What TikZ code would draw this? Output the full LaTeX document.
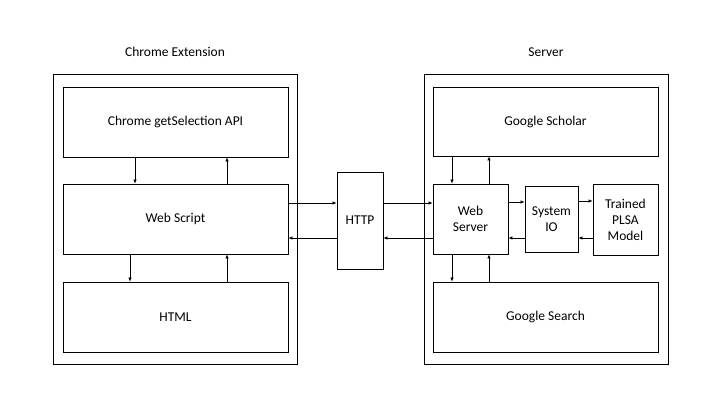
\documentclass[tikz,border=0pt]{standalone}
\usepackage{fontspec}
\setmainfont{Carlito}
\usetikzlibrary{arrows.meta}
\begin{document}
\begin{tikzpicture}[x=1pt,y=-1pt,
  box/.style={draw,line width=0.8pt,inner sep=0pt,font=\fontsize{13.5}{16}\selectfont,align=center},
  arr/.style={line width=0.7pt,-{Latex[length=4pt,width=3.5pt]}},
  lbl/.style={font=\fontsize{13.5}{16}\selectfont}]
\useasboundingbox (0,0) rectangle (720,405);
\fill[white] (0,0) rectangle (720,405);
% outer boxes
\draw[line width=0.8pt] (53,74) rectangle (297,364);
\draw[line width=0.8pt] (424,74) rectangle (668,364);
\node[lbl] (lt) at (175,52) {Chrome Extension};
\node[lbl] (rt) at (546,52) {Server};
% left boxes
\node[box,minimum width=225pt,minimum height=70pt] (api) at (175.5,122) {Chrome getSelection API};
\node[box,minimum width=225pt,minimum height=70pt] (ws) at (175.5,219) {Web Script};
\node[box,minimum width=225pt,minimum height=70pt] (html) at (175.5,317) {HTML};
% HTTP
\node[box,minimum width=46pt,minimum height=97pt] (http) at (360,220.5) {HTTP};
% right boxes
\node[box,minimum width=225pt,minimum height=69pt] (gs) at (545.5,121.5) {Google Scholar};
\node[box,minimum width=225pt,minimum height=70pt] (gsearch) at (545.5,317) {Google Search};
\node[box,minimum width=75pt,minimum height=70pt] (web) at (470.5,219) {Web\\Server};
\node[box,minimum width=53pt,minimum height=66pt] (sio) at (551.5,219) {System\\IO};
\node[box,minimum width=65pt,minimum height=71pt] (plsa) at (625.5,219.5) {Trained\\PLSA\\Model};
% left arrows
\draw[arr] (api.south -| 135,0) -- (ws.north -| 135,0);
\draw[arr] (ws.north -| 227,0) -- (api.south -| 227,0);
\draw[arr] (ws.south -| 130,0) -- (html.north -| 130,0);
\draw[arr] (html.north -| 227,0) -- (ws.south -| 227,0);
% HTTP arrows
\draw[arr] (ws.east |- 0,203) -- (http.west |- 0,203);
\draw[arr] (http.west |- 0,238) -- (ws.east |- 0,238);
\draw[arr] (http.east |- 0,203) -- (web.west |- 0,203);
\draw[arr] (web.west |- 0,238) -- (http.east |- 0,238);
% server arrows
\draw[arr] (gs.south -| 452,0) -- (web.north -| 452,0);
\draw[arr] (web.north -| 489,0) -- (gs.south -| 489,0);
\draw[arr] (web.south -| 452,0) -- (gsearch.north -| 452,0);
\draw[arr] (gsearch.north -| 489,0) -- (web.south -| 489,0);
\draw[arr] (web.east |- 0,202) -- (sio.west |- 0,202);
\draw[arr] (sio.west |- 0,238) -- (web.east |- 0,238);
\draw[arr] (sio.east |- 0,201) -- (plsa.west |- 0,201);
\draw[arr] (plsa.west |- 0,238) -- (sio.east |- 0,238);
\end{tikzpicture}
\end{document}
